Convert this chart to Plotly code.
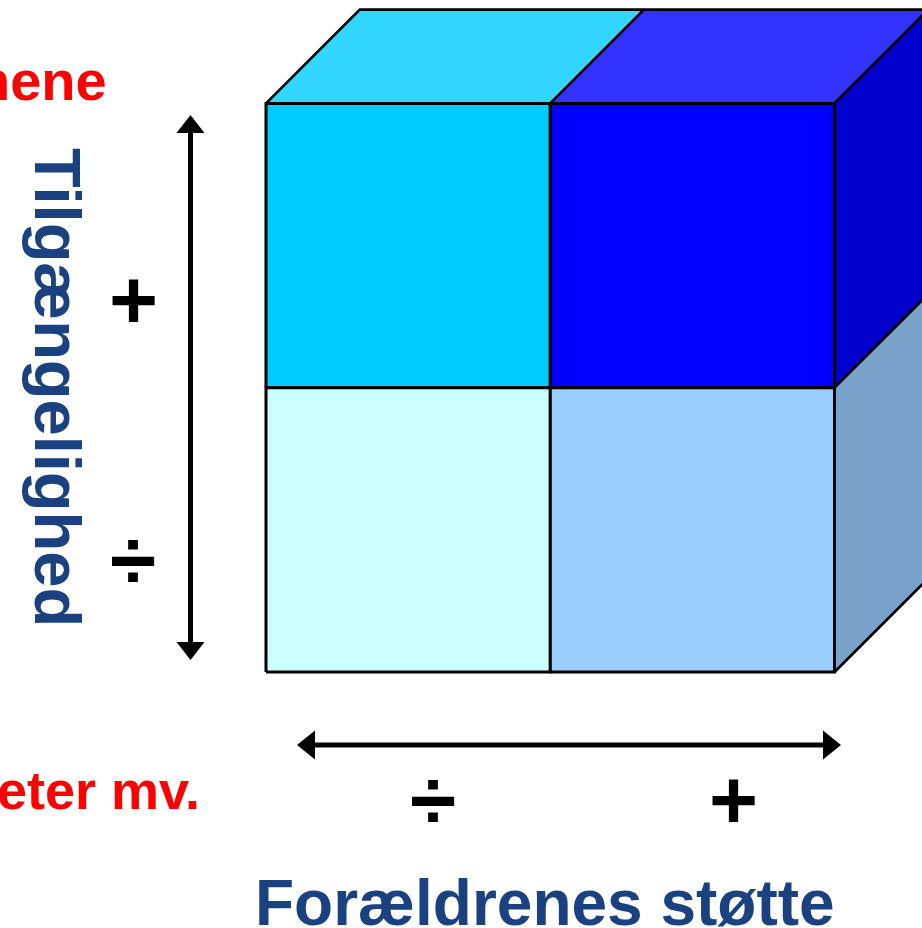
import plotly.graph_objects as go

# ---- data ----
rows = ["+", "÷"]            # Tilgængelighed levels, top to bottom
cols = ["÷", "+"]            # Forældrenes støtte levels, left to right
y_title = "Tilgængelighed"
x_title = "Forældrenes støtte"
red_top = "nene"
red_bottom = "eter mv."

# ---- style ----
front_colors = {(0, 1): "#00CCFF", (1, 1): "#0000FF", (0, 0): "#CCFFFF", (1, 0): "#99CCFF"}
top_colors = {0: "#33D6FF", 1: "#3333FF"}
side_colors = {1: "#0000CC", 0: "#7AA3CC"}
BLUE = "#1A4180"
FONT = "Liberation Sans, Arial, sans-serif"

U = 284.3      # pixels per cube unit
X0, Y0 = 266, 672
D = 0.33       # depth of the cube (in units)
W, H = 922, 928


def px(x):
    return (x - X0) / U


def py(y):
    return (Y0 - y) / U


fig = go.Figure()
ncol, nrow = len(cols), len(rows)


def poly(pts, color, lw):
    xs = [p[0] for p in pts] + [pts[0][0]]
    ys = [p[1] for p in pts] + [pts[0][1]]
    fig.add_trace(go.Scatter(x=xs, y=ys, mode="lines", fill="toself", fillcolor=color,
                             line=dict(color="black", width=lw), hoverinfo="skip",
                             showlegend=False))


# front faces
for ri, r in enumerate(rows):
    j = nrow - 1 - ri
    for i, c in enumerate(cols):
        poly([(i, j), (i + 1, j), (i + 1, j + 1), (i, j + 1)], front_colors[(i, j)], 3)
# top faces
for i, c in enumerate(cols):
    poly([(i, nrow), (i + 1, nrow), (i + 1 + D, nrow + D), (i + D, nrow + D)], top_colors[i], 2.6)
# right side faces
for ri, r in enumerate(rows):
    j = nrow - 1 - ri
    poly([(ncol, j), (ncol + D, j + D), (ncol + D, j + 1 + D), (ncol, j + 1)], side_colors[j], 2.6)

shapes = []
LW = 5


def arrow_head(tip, back, half):
    (tx, ty), (bx, by) = tip, back
    dx, dy = tx - bx, ty - by
    L = (dx * dx + dy * dy) ** 0.5
    nx, ny = -dy / L * half, dx / L * half
    pts = [(tx, ty), (bx + nx, by + ny), (bx - nx, by - ny)]
    path = "M " + " L ".join(f"{px(a)},{py(b)}" for a, b in pts) + " Z"
    return dict(type="path", path=path, xref="x", yref="y", fillcolor="black",
                line=dict(color="black", width=0))


# vertical arrow
vx, vt, vb = 190.5, 115, 660
shapes.append(dict(type="line", xref="x", yref="y", x0=px(vx), x1=px(vx), y0=py(vt + 10), y1=py(vb - 10),
                   line=dict(color="black", width=LW)))
shapes.append(arrow_head((vx, vt), (vx, vt + 18), 14))
shapes.append(arrow_head((vx, vb), (vx, vb - 18), 14))
# horizontal arrow
hy, hl, hr = 745, 297, 841
shapes.append(dict(type="line", xref="x", yref="y", x0=px(hl + 10), x1=px(hr - 10), y0=py(hy), y1=py(hy),
                   line=dict(color="black", width=LW)))
shapes.append(arrow_head((hl, hy), (hl + 18, hy), 14.5))
shapes.append(arrow_head((hr, hy), (hr - 18, hy), 14.5))

ann = []


def text(x, y, t, size, color, xanchor="center", angle=0):
    ann.append(dict(x=px(x), y=py(y), xref="x", yref="y", text=f"<b>{t}</b>", showarrow=False,
                    xanchor=xanchor, yanchor="middle", textangle=angle,
                    font=dict(family=FONT, size=size, color=color)))


text(109, 80, red_top, 56, "#FF0000", xanchor="right")
text(202, 790, red_bottom, 54, "#FF0000", xanchor="right")
text(58, 387, y_title, 65, BLUE, angle=90)
text(545, 903, x_title, 64, BLUE)
text(133, 300, rows[0], 84, "black")
text(133, 560, rows[1], 84, "black")
text(433, 800, cols[0], 84, "black")
text(733, 800, cols[1], 84, "black")

fig.update_layout(
    width=W, height=H, margin=dict(l=0, r=0, t=0, b=0),
    paper_bgcolor="white", plot_bgcolor="white",
    xaxis=dict(range=[px(0), px(W)], visible=False, fixedrange=True),
    yaxis=dict(range=[py(H), py(0)], visible=False, fixedrange=True),
    shapes=shapes, annotations=ann, showlegend=False,
)
fig.write_html("out.html", config={"displayModeBar": False},
               post_script="document.body.style.margin='0px';document.body.style.overflow='hidden';")
